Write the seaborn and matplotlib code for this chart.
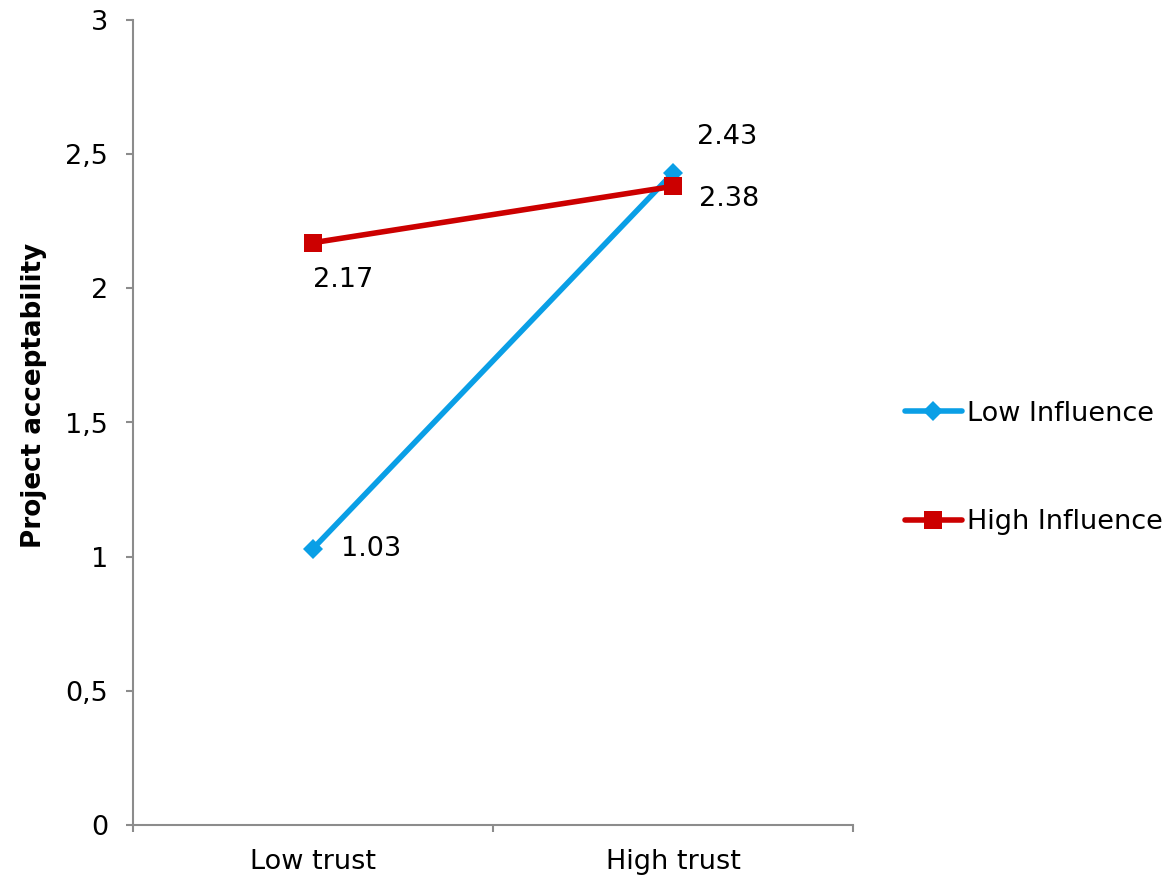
import pandas as pd
import matplotlib
matplotlib.use("Agg")
import matplotlib.pyplot as plt
import seaborn as sns

# chart data
categories = ["Low trust", "High trust"]
series_names = ["Low Influence", "High Influence"]
low_influence = [1.03, 2.43]
high_influence = [2.17, 2.38]
y_ticks = [0, 0.5, 1, 1.5, 2, 2.5, 3]
y_tick_labels = ["0", "0,5", "1", "1,5", "2", "2,5", "3"]

colors = {"Low Influence": "#0A9FE6", "High Influence": "#CC0000"}
markers = {"Low Influence": "D", "High Influence": "s"}
marker_sizes = {"Low Influence": 10, "High Influence": 13}

rows = []
for name, vals in zip(series_names, [low_influence, high_influence]):
    for i, (cat, v) in enumerate(zip(categories, vals)):
        rows.append({"series": name, "category": cat, "pos": i, "value": v})
df = pd.DataFrame(rows)

sns.set_style("white")
plt.rcParams["font.family"] = ["DejaVu Sans"]
plt.rcParams["text.color"] = "black"
plt.rcParams["xtick.labelcolor"] = "black"
plt.rcParams["ytick.labelcolor"] = "black"
plt.rcParams["axes.labelcolor"] = "black"
FS = 19.5

fig = plt.figure(figsize=(11.65, 8.8), dpi=100)
ax = fig.add_axes([133 / 1165, 1 - 825 / 880, 720 / 1165, 805 / 880])

for name in series_names:
    sub = df[df["series"] == name]
    sns.lineplot(data=sub, x="pos", y="value", ax=ax, color=colors[name],
                 linewidth=4, marker=markers[name], markersize=marker_sizes[name],
                 markeredgewidth=0, label=name, errorbar=None)

# data labels (offsets in points)
offsets = {
    ("Low Influence", 0): (20, 0, "left", "center"),
    ("Low Influence", 1): (17, 26, "left", "center"),
    ("High Influence", 0): (0, -27, "left", "center"),
    ("High Influence", 1): (19, -9, "left", "center"),
}
for _, r in df.iterrows():
    dx, dy, ha, va = offsets[(r["series"], r["pos"])]
    ax.annotate(f"{r['value']:.2f}", (r["pos"], r["value"]), xytext=(dx, dy),
                textcoords="offset points", ha=ha, va=va, fontsize=FS)

ax.set_xlim(-0.5, len(categories) - 0.5)
ax.set_ylim(0, 3)
ax.set_yticks(y_ticks)
ax.set_yticklabels(y_tick_labels, fontsize=FS)
ax.set_xticks([i - 0.5 for i in range(len(categories) + 1)])
ax.set_xticklabels([])
ax.set_xticks(range(len(categories)), minor=True)
ax.set_xticklabels(categories, minor=True, fontsize=FS)
ax.tick_params(axis="x", which="minor", length=0, pad=17)
ax.tick_params(axis="x", which="major", direction="out", length=5, width=1.5,
               color="#8C8C8C", bottom=True)
ax.tick_params(axis="y", direction="out", length=5, width=1.5, color="#8C8C8C",
               left=True, pad=13)
for side in ["top", "right"]:
    ax.spines[side].set_visible(False)
for side in ["left", "bottom"]:
    ax.spines[side].set_color("#8C8C8C")
    ax.spines[side].set_linewidth(1.5)

ax.set_xlabel("")
ax.set_ylabel("Project acceptability", fontsize=18.8, fontweight="bold")
ax.yaxis.set_label_coords(-0.12, 0.533)

handles, labels = ax.get_legend_handles_labels()
ax.get_legend().remove()
fig.legend(handles, labels, loc="center left", bbox_to_anchor=(905 / 1165, 1 - 468 / 880),
           frameon=False, fontsize=FS, handlelength=2.1, handletextpad=0.2,
           labelspacing=3.05, borderpad=0, borderaxespad=0, markerscale=1.0)

fig.savefig("out.png", dpi=100)
